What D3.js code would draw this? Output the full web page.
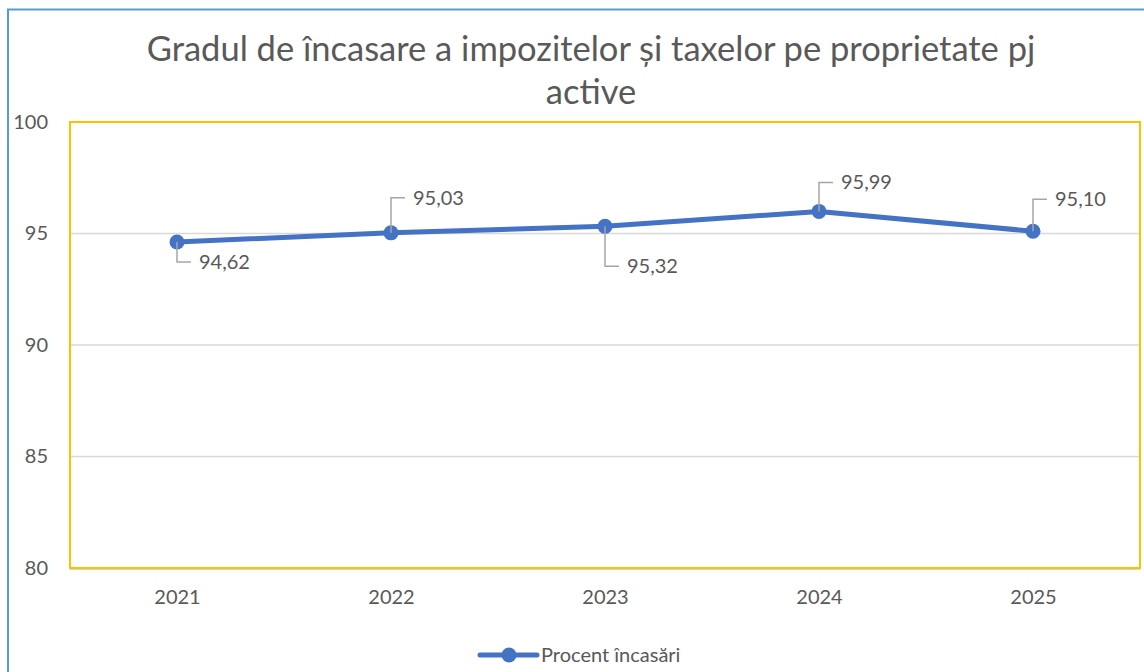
<!DOCTYPE html>
<html>
<head>
<meta charset="utf-8">
<script src="https://cdn.jsdelivr.net/npm/d3@7"></script>
<style>
  body { margin: 0; background: #fff; }
  svg text { font-family: Lato, "Open Sans", sans-serif; fill: #595959; }
</style>
</head>
<body>
<svg class="chart"></svg>
<script>
var years = ["2021", "2022", "2023", "2024", "2025"];
var percent = [94.62, 95.03, 95.32, 95.99, 95.10];
var yTicks = [80, 85, 90, 95, 100];
var titleLines = ["Gradul de încasare a impozitelor și taxelor pe proprietate pj", "active"];
var seriesName = "Procent încasări";

// label placement (Excel-style leader lines), px offsets from the point
var labelDy = [20, -35, 40, -29, -32];

function show() {
    'use strict';

    var W = 1144, H = 672;
    var margin = { top: 122, bottom: 104, right: 4, left: 70 },
        width = W - margin.left - margin.right,
        height = H - margin.top - margin.bottom;

    var svg = d3.select(".chart")
        .attr("width", W)
        .attr("height", H);

    // outer chart border (runs off the right/bottom edge)
    svg.append("rect")
        .attr("x", 8).attr("y", 9.5)
        .attr("width", W + 20).attr("height", H + 20)
        .attr("fill", "none")
        .attr("stroke", "#5B9BD5")
        .attr("stroke-width", 2);

    svg.selectAll(".title").data(titleLines).enter().append("text")
        .attr("class", "title")
        .attr("x", 591)
        .attr("y", function(d, i) { return 61 + i * 43; })
        .attr("text-anchor", "middle")
        .style("font-size", "34.5px")
        .text(function(d) { return d; });

    var chart = svg.append("g")
        .attr("transform", "translate(" + margin.left + "," + margin.top + ")");

    var x = d3.scalePoint().domain(years).range([0, width]).padding(0.5);
    var y = d3.scaleLinear().domain([80, 100]).range([height, 0]);

    // gridlines
    chart.selectAll(".grid").data(yTicks.slice(1, -1)).enter().append("line")
        .attr("x1", 0).attr("x2", width)
        .attr("y1", function(d) { return y(d); })
        .attr("y2", function(d) { return y(d); })
        .attr("stroke", "#D9D9D9")
        .attr("stroke-width", 1.5);

    // y axis labels
    var yAxis = chart.append("g")
        .call(d3.axisLeft(y).tickValues(yTicks).tickSize(0).tickPadding(22));
    yAxis.select(".domain").remove();
    yAxis.selectAll("text").style("font-size", "20px").attr("fill", "#595959");

    // x axis
    var xAxis = chart.append("g")
        .attr("transform", "translate(0," + height + ")")
        .call(d3.axisBottom(x).tickSize(0).tickPadding(22));
    xAxis.select(".domain").remove();
    xAxis.selectAll("text").style("font-size", "20px").attr("fill", "#595959");

    chart.append("line")
        .attr("x1", 0).attr("x2", width)
        .attr("y1", height + 1).attr("y2", height + 1)
        .attr("stroke", "#D9D5CC")
        .attr("stroke-width", 2);

    // plot area border
    chart.append("rect")
        .attr("x", 0).attr("y", 0)
        .attr("width", width).attr("height", height)
        .attr("fill", "none")
        .attr("stroke", "#FFC000")
        .attr("stroke-width", 2);

    var line = d3.line()
        .x(function(d, i) { return x(years[i]); })
        .y(function(d) { return y(d); });

    chart.append("path")
        .datum(percent)
        .attr("d", line)
        .attr("fill", "none")
        .attr("stroke", "#4472C4")
        .attr("stroke-width", 5)
        .attr("stroke-linejoin", "round");

    chart.selectAll(".dot").data(percent).enter().append("circle")
        .attr("cx", function(d, i) { return x(years[i]); })
        .attr("cy", function(d) { return y(d); })
        .attr("r", 7.5)
        .attr("fill", "#4472C4");

    // data labels with leader lines
    var labels = chart.selectAll(".lbl").data(percent).enter().append("g");
    labels.append("path")
        .attr("d", function(d, i) {
            var px = x(years[i]), py = y(d);
            return "M" + px + "," + py + "V" + (py + labelDy[i]) + "H" + (px + 14);
        })
        .attr("fill", "none")
        .attr("stroke", "#A6A6A6")
        .attr("stroke-width", 1.5);
    labels.append("text")
        .attr("x", function(d, i) { return x(years[i]) + 22; })
        .attr("y", function(d, i) { return y(d) + labelDy[i]; })
        .attr("dy", "0.35em")
        .style("font-size", "20px")
        .text(function(d) { return d.toFixed(2).replace(".", ","); });

    // legend
    var legend = svg.append("g").attr("transform", "translate(480,655)");
    legend.append("line")
        .attr("x1", 0).attr("x2", 57)
        .attr("stroke", "#4472C4").attr("stroke-width", 5)
        .attr("stroke-linecap", "round");
    legend.append("circle").attr("cx", 29).attr("r", 7.5).attr("fill", "#4472C4");
    legend.append("text")
        .attr("x", 61).attr("dy", "0.35em")
        .style("font-size", "20px")
        .text(seriesName);
}

show();
</script>
</body>
</html>
